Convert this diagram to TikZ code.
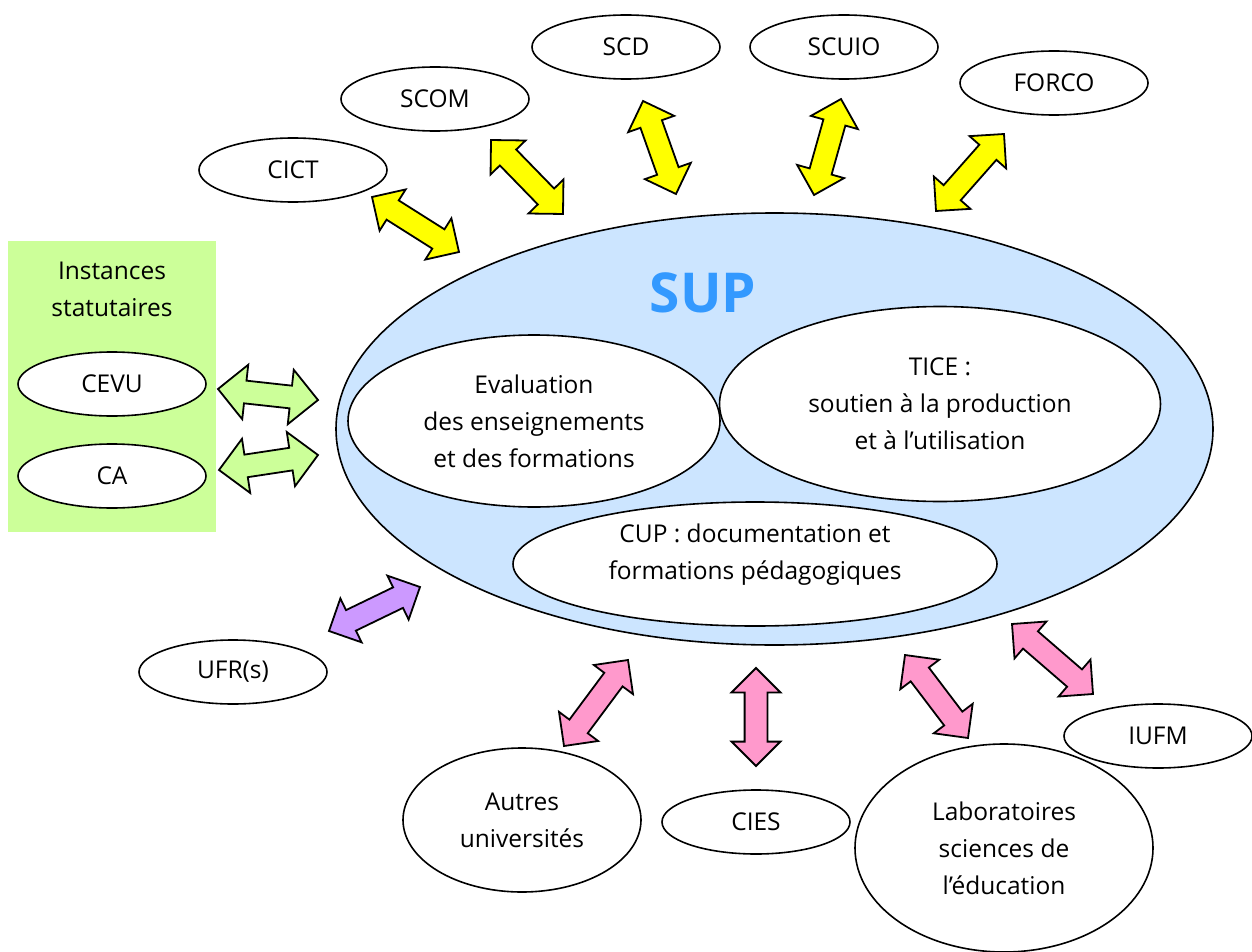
\documentclass[tikz,border=0pt]{standalone}
\usepackage{fontspec}
\setmainfont{Open Sans}
\usetikzlibrary{shapes.geometric,shapes.arrows,calc}
\definecolor{supblue}{RGB}{204,229,255}
\definecolor{suptext}{RGB}{51,153,255}
\definecolor{instgreen}{RGB}{204,255,153}
\definecolor{arryellow}{RGB}{255,255,0}
\definecolor{arrpink}{RGB}{255,153,204}
\definecolor{arrpurple}{RGB}{204,153,255}
\tikzset{
 ell/.style={ellipse, draw, line width=1.6pt, fill=white, inner sep=0pt, align=center, font=\fontsize{24.5}{37}\selectfont},
 lbl/.style={align=center, font=\fontsize{24.5}{37}\selectfont},
 blockarrow/.style={double arrow, draw, line width=1.8pt, inner xsep=0pt, inner ysep=10.5pt, minimum width=0pt, double arrow head extend=13pt, double arrow tip angle=90},
}
\newcommand\blockarr[4]{%
 \path let \p1=(#2), \p2=(#3), \n1={atan2(\y2-\y1,\x2-\x1)}, \n2={veclen(\x2-\x1,\y2-\y1)} in
  node[blockarrow, fill=#1, rotate=\n1, minimum height=\n2, #4] at ($(#2)!0.5!(#3)$) {};}
\begin{document}
\begin{tikzpicture}[x=1pt,y=-1pt]
\useasboundingbox (0,0) rectangle (1252,952);
% instances
\fill[instgreen] (8,241) rectangle (216,532);
\node[lbl] (inst) at (112,289) {Instances\\statutaires};
\node[ell, minimum width=188pt, minimum height=64pt] (cevu) at (112,384) {CEVU};
\node[ell, minimum width=188pt, minimum height=64pt] (ca) at (112,476) {CA};
% SUP
\node[ellipse, draw, line width=1.6pt, fill=supblue, minimum width=877pt, minimum height=432pt, inner sep=0pt] (sup) at (774.5,429) {};
\node[text=suptext, font=\fontsize{55}{60}\selectfont\bfseries] (suplbl) at (703,293) {SUP};
\node[ell, minimum width=372pt, minimum height=172pt] (eval) at (534,421) {Evaluation\\des enseignements\\et des formations};
\node[ell, minimum width=441pt, minimum height=195pt] (tice) at (940,404) {TICE :\\soutien à la production\\et à l’utilisation};
\node[ell, minimum width=484pt, minimum height=124pt] (cup) at (755,564) {};
\node[lbl] (cuplbl) at (755,555) {CUP : documentation et\\formations pédagogiques};
% outer ellipses
\node[ell, minimum width=188pt, minimum height=64pt] (cict) at (293,170) {CICT};
\node[ell, minimum width=188pt, minimum height=64pt] (scom) at (435,99) {SCOM};
\node[ell, minimum width=188pt, minimum height=64pt] (scd) at (626,47) {SCD};
\node[ell, minimum width=188pt, minimum height=64pt] (scuio) at (844,47) {SCUIO};
\node[ell, minimum width=188pt, minimum height=64pt] (forco) at (1054,83) {FORCO};
\node[ell, minimum width=188pt, minimum height=64pt] (ufr) at (233,672) {UFR(s)};
\node[ell, minimum width=238pt, minimum height=144pt] (autres) at (522,820) {Autres\\universités};
\node[ell, minimum width=188pt, minimum height=64pt] (cies) at (756,822) {CIES};
\node[ell, minimum width=298pt, minimum height=208pt] (lab) at (1004,848) {Laboratoires\\sciences de\\l’éducation};
\node[ell, minimum width=188pt, minimum height=64pt] (iufm) at (1158,736) {IUFM};
% arrow endpoints
\coordinate (a1) at (372,197); \coordinate (b1) at (459,252);
\coordinate (a2) at (491,140); \coordinate (b2) at (563,214);
\coordinate (a3) at (643,101); \coordinate (b3) at (676,194);
\coordinate (a4) at (841,99);  \coordinate (b4) at (814,195);
\coordinate (a5) at (1004,134); \coordinate (b5) at (936,211);
\coordinate (a6) at (218,389); \coordinate (b6) at (318,400);
\coordinate (a7) at (219,470); \coordinate (b7) at (318,455);
\coordinate (a8) at (329,631); \coordinate (b8) at (420,587);
\coordinate (a9) at (564,746); \coordinate (b9) at (628,660);
\coordinate (a10) at (756,766); \coordinate (b10) at (756,668);
\coordinate (a11) at (968,738); \coordinate (b11) at (905,655);
\coordinate (a12) at (1093,694); \coordinate (b12) at (1012,624);
\blockarr{arryellow}{a1}{b1}{}
\blockarr{arryellow}{a2}{b2}{}
\blockarr{arryellow}{a3}{b3}{}
\blockarr{arryellow}{a4}{b4}{}
\blockarr{arryellow}{a5}{b5}{}
\blockarr{instgreen}{a6}{b6}{double arrow head extend=16pt}
\blockarr{instgreen}{a7}{b7}{double arrow head extend=16pt}
\blockarr{arrpurple}{a8}{b8}{}
\blockarr{arrpink}{a9}{b9}{}
\blockarr{arrpink}{a10}{b10}{}
\blockarr{arrpink}{a11}{b11}{}
\blockarr{arrpink}{a12}{b12}{}
\end{tikzpicture}
\end{document}
